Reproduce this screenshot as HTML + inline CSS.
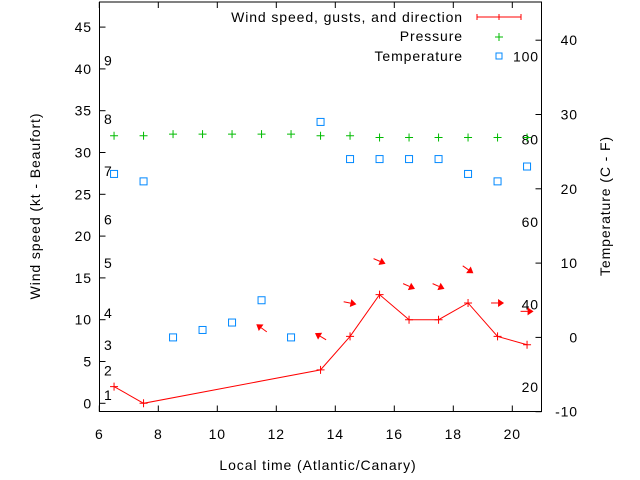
<!DOCTYPE html>
<html><head><meta charset="utf-8"><style>
body{margin:0;background:#fff}
svg{display:block;font-family:"Liberation Sans",sans-serif;font-size:14px;letter-spacing:0.9px}
</style></head><body>
<svg id="c" width="640" height="480" xmlns="http://www.w3.org/2000/svg">
<rect x="99.5" y="2" width="442" height="409.5" fill="none" stroke="#000"/>
<g id="axes"></g>
<g id="marks"></g>
<text x="318" y="470" text-anchor="middle">Local time (Atlantic/Canary)</text>
<text transform="translate(40,206) rotate(-90)" text-anchor="middle">Wind speed (kt - Beaufort)</text>
<text transform="translate(610,206) rotate(-90)" text-anchor="middle">Temperature (C - F)</text>
<g>
<text x="463" y="22" text-anchor="end">Wind speed, gusts, and direction</text>
<path d="M477 17H521M477 14V20M499 14V20M521 14V20" stroke="#f00" fill="none"/>
<text x="463" y="41" text-anchor="end">Pressure</text>
<path d="M495 37H503M499 33V41" stroke="#0b0"/>
<text x="463" y="61" text-anchor="end">Temperature</text>
<rect x="496" y="53" width="6" height="6" fill="none" stroke="#08f"/>
</g>
</svg>
<script>
const hours=[6.5,7.5,8.5,9.5,10.5,11.5,12.5,13.5,14.5,15.5,16.5,17.5,18.5,19.5,20.5];
const windHours=[6.5,7.5,13.5,14.5,15.5,16.5,17.5,18.5,19.5,20.5];
const windSpeed=[2,0,4,8,13,10,10,12,8,7];
const gustHours=[11.5,13.5,14.5,15.5,16.5,17.5,18.5,19.5,20.5];
const gustSpeed=[9,8,12,17,14,14,16,12,11];
const arrowDeg=[216,211,11,23,24,24,35,0,0];
const pressure=[32,32,32.2,32.2,32.2,32.2,32.2,32,32,31.8,31.8,31.8,31.8,31.8,31.8];
const temperature=[22,21,0,1,2,5,0,29,24,24,24,24,22,21,23];
const xTicks=[6,8,10,12,14,16,18,20];
const yTicks=[0,5,10,15,20,25,30,35,40,45];
const y2Ticks=[-10,0,10,20,30,40];
const beaufort=[[1,1],[2,3.9],[3,7],[4,10.8],[5,16.8],[6,22],[7,27.8],[8,34],[9,41]];
const fahrenheit=[20,40,60,80,100];

const X=h=>99.3+(h-6)*29.5;
const Y=v=>403.3-v*8.36;
const T=t=>337.4-t*7.43;
const NS="http://www.w3.org/2000/svg";
const ax=document.getElementById('axes'),mk=document.getElementById('marks');
function el(p,tag,a,txt){const e=document.createElementNS(NS,tag);for(const k in a)e.setAttribute(k,a[k]);if(txt!==undefined)e.textContent=txt;p.appendChild(e);return e;}
xTicks.forEach(h=>{
 const t=el(ax,'path',{d:`M${X(h)} 411.5v-6M${X(h)} 2v6`,stroke:'#000'});
 
 
 const l=el(ax,'text',{x:X(h),y:439,'text-anchor':'middle'},h);
 
 
});
yTicks.forEach(v=>{
 const t=el(ax,'path',{d:`M99.5 ${Y(v)}h6`,stroke:'#000'});
 
 
 const l=el(ax,'text',{x:92,y:Y(v)+5,'text-anchor':'end'},v);
 
 
});
y2Ticks.forEach(v=>{
 const t=el(ax,'path',{d:`M541.5 ${T(v)}h-6`,stroke:'#000'});
 
 
 const l=el(ax,'text',{x:578,y:T(v)+5,'text-anchor':'end'},v);
 
 
});
beaufort.forEach(b=>{
 const l=el(ax,'text',{x:104,y:Y(b[1])+5},b[0]);
 
 
});
fahrenheit.forEach(f=>{
 const c=(f-32)*5/9;
 const l=el(ax,'text',{x:539,y:T(c)+5,'text-anchor':'end'},f);
 
 
});
const line=el(mk,'polyline',{points:windHours.map((h,i)=>X(h)+','+Y(windSpeed[i])).join(' '),fill:'none',stroke:'#f00'});


windHours.forEach((h,i)=>{
 const p=el(mk,'path',{d:`M${X(h)-4} ${Y(windSpeed[i])}h8M${X(h)} ${Y(windSpeed[i])-4}v8`,stroke:'#f00'});
 
 
});
gustHours.forEach((h,i)=>{
 const cx=X(h),cy=Y(gustSpeed[i]),a=arrowDeg[i]*Math.PI/180,L=6.5;
 const dx=Math.cos(a),dy=Math.sin(a);
 const x1=cx-dx*L,y1=cy-dy*L,x2=cx+dx*L,y2=cy+dy*L;
 const bx=x2-dx*6,by=y2-dy*6;
 const g=el(mk,'g',{});
 
 
 el(g,'line',{x1,y1,x2:bx,y2:by,stroke:'#f00'});
 el(g,'polygon',{points:`${x2},${y2} ${bx-dy*4},${by+dx*4} ${bx+dy*4},${by-dx*4}`,fill:'#f00'});
});
hours.forEach((h,i)=>{
 const p=el(mk,'path',{d:`M${X(h)-4} ${Y(pressure[i])}h8M${X(h)} ${Y(pressure[i])-4}v8`,stroke:'#0b0'});
 
 
 const r=el(mk,'rect',{x:X(h)-3.5,y:T(temperature[i])-3.5,width:7,height:7,fill:'none',stroke:'#08f'});
 
 
});
</script>
</body></html>
